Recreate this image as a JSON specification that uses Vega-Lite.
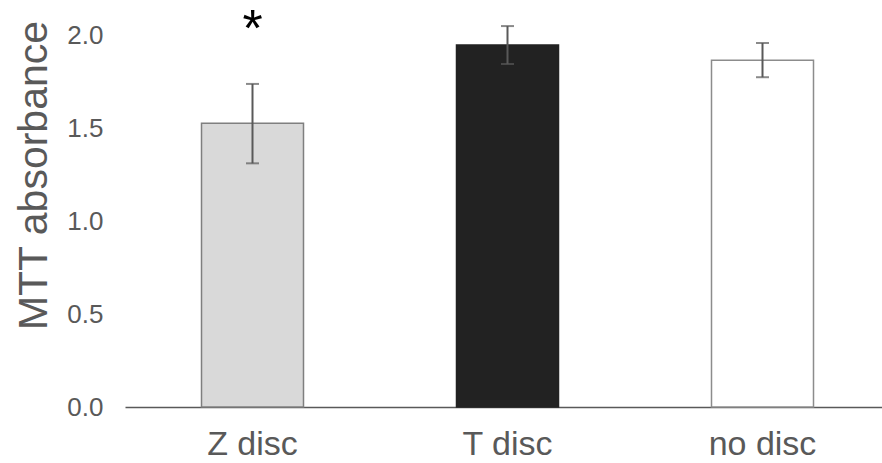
{
  "$schema": "https://vega.github.io/schema/vega-lite/v6.json",
  "autosize": "none",
  "width": 765,
  "height": 372,
  "padding": {"left": 125, "top": 35, "right": 0, "bottom": 56},
  "background": "white",
  "config": {
    "view": {"stroke": null},
    "font": "Liberation Sans"
  },
  "data": {
    "values": [
      {"group": "Z disc", "mean": 1.525, "lo": 1.31, "hi": 1.737, "sig": "*"},
      {"group": "T disc", "mean": 1.946, "lo": 1.844, "hi": 2.048, "sig": ""},
      {"group": "no disc", "mean": 1.864, "lo": 1.773, "hi": 1.957, "sig": ""}
    ]
  },
  "encoding": {
    "x": {
      "field": "group",
      "type": "nominal",
      "sort": ["Z disc", "T disc", "no disc"],
      "scale": {"paddingInner": 0.6, "paddingOuter": 0.3},
      "axis": {
        "title": null,
        "labelAngle": 0,
        "labelFontSize": 34,
        "labelColor": "#595959",
        "labelPadding": 20,
        "ticks": false,
        "domainColor": "#595959",
        "domainWidth": 1.5
      }
    }
  },
  "layer": [
    {
      "mark": {"type": "bar", "strokeWidth": 1.5},
      "encoding": {
        "y": {
          "field": "mean",
          "type": "quantitative",
          "scale": {"domain": [0, 2], "nice": false},
          "axis": {
            "title": "MTT absorbance",
            "titleFontSize": 41,
            "titleFontWeight": "normal",
            "titleColor": "#595959",
            "titlePadding": 11,
            "titleY": 140,
            "values": [0, 0.5, 1, 1.5, 2],
            "format": ".1f",
            "labelFontSize": 26,
            "labelColor": "#595959",
            "labelPadding": 22,
            "ticks": false,
            "domain": false,
            "grid": false
          }
        },
        "fill": {
          "field": "group",
          "type": "nominal",
          "scale": {"domain": ["Z disc", "T disc", "no disc"], "range": ["#d9d9d9", "#222222", "#ffffff"]},
          "legend": null
        },
        "stroke": {
          "field": "group",
          "type": "nominal",
          "scale": {"domain": ["Z disc", "T disc", "no disc"], "range": ["#7f7f7f", "#222222", "#8c8c8c"]},
          "legend": null
        }
      }
    },
    {
      "mark": {"type": "rule", "color": "#595959", "strokeWidth": 2},
      "encoding": {
        "y": {"field": "lo", "type": "quantitative"},
        "y2": {"field": "hi"}
      }
    },
    {
      "mark": {"type": "tick", "color": "#595959", "thickness": 2, "size": 13, "orient": "horizontal"},
      "encoding": {"y": {"field": "lo", "type": "quantitative"}}
    },
    {
      "mark": {"type": "tick", "color": "#595959", "thickness": 2, "size": 13, "orient": "horizontal"},
      "encoding": {"y": {"field": "hi", "type": "quantitative"}}
    },
    {
      "mark": {"type": "text", "fontSize": 52, "color": "#000000", "baseline": "top", "dy": -19},
      "encoding": {
        "y": {"datum": 2.06, "type": "quantitative"},
        "text": {"field": "sig"}
      }
    }
  ]
}
